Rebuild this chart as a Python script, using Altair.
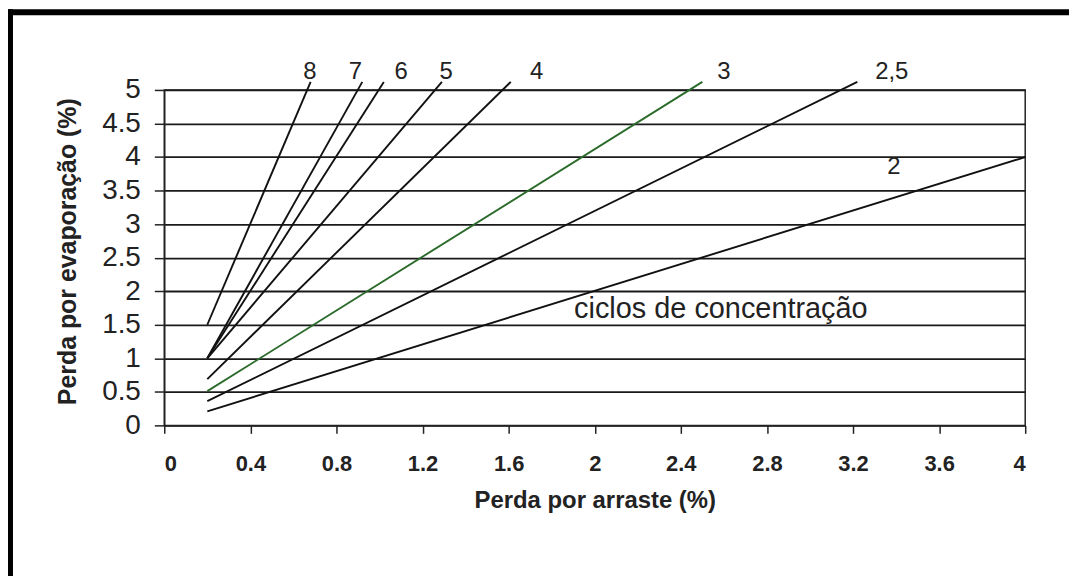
import altair as alt
import pandas as pd

# ---- data ----
cycles = ["8", "7", "6", "5", "4", "3", "2,5", "2"]
x_start = [0.2, 0.2, 0.2, 0.2, 0.2, 0.2, 0.2, 0.2]
y_start = [1.5, 1.0, 1.0, 1.0, 0.69, 0.51, 0.36, 0.21]
x_end = [0.68, 0.92, 1.02, 1.29, 1.61, 2.5, 3.22, 4.0]
y_end = [5.12, 5.12, 5.12, 5.12, 5.12, 5.12, 5.12, 4.0]
line_colors = ["#111111", "#111111", "#111111", "#111111", "#111111", "#2a6a2a", "#111111", "#111111"]

label_x = [0.677, 0.888, 1.10, 1.31, 1.73, 2.60, 3.38, 3.39]
label_y = [5.16, 5.16, 5.16, 5.16, 5.16, 5.16, 5.16, 3.75]

note_text = ["ciclos de concentração"]
note_x = [2.586]
note_y = [1.60]

x_ticks = [0, 0.4, 0.8, 1.2, 1.6, 2, 2.4, 2.8, 3.2, 3.6, 4]
y_ticks = [0, 0.5, 1, 1.5, 2, 2.5, 3, 3.5, 4, 4.5, 5]

FONT = "Liberation Sans"

rows = []
for i, c in enumerate(cycles):
    rows.append({"ciclo": c, "order": 0, "x": x_start[i], "y": y_start[i]})
    rows.append({"ciclo": c, "order": 1, "x": x_end[i], "y": y_end[i]})
lines_df = pd.DataFrame(rows)
labels_df = pd.DataFrame({"ciclo": cycles, "x": label_x, "y": label_y})
note_df = pd.DataFrame({"t": note_text, "x": note_x, "y": note_y})

xscale = alt.Scale(domain=[0, 4], nice=False, zero=False)
yscale = alt.Scale(domain=[0, 5], nice=False, zero=False)

xaxis = alt.Axis(
    values=x_ticks, labelExpr="'' + datum.value", title="Perda por arraste (%)",
    grid=False, tickSize=8, tickWidth=1.5, tickColor="#222", domainColor="#222", domainWidth=1.5,
    labelFont=FONT, labelFontSize=22, labelFontWeight="bold", labelColor="#222", labelPadding=20,
    labelOverlap=False,
    titleFont=FONT, titleFontSize=24, titleFontWeight="bold", titleColor="#222",
    titleY=64, titleBaseline="top",
)
yaxis = alt.Axis(
    values=y_ticks, labelExpr="'' + datum.value", title="Perda por evaporação (%)",
    grid=True, gridColor="#1a1a1a", gridWidth=1.8, gridOpacity=1,
    tickSize=10, tickWidth=1.5, tickColor="#222", domainColor="#222", domainWidth=1.5,
    labelFont=FONT, labelFontSize=28, labelColor="#222", labelPadding=14,
    labelOverlap=False,
    titleFont=FONT, titleFontSize=25, titleFontWeight="bold", titleColor="#222",
    titlePadding=21, titleY=162,
)

X = alt.X("x:Q", scale=xscale, axis=xaxis)
Y = alt.Y("y:Q", scale=yscale, axis=yaxis)

lines = alt.Chart(lines_df).mark_line(strokeWidth=1.9).encode(
    x=X,
    y=Y,
    color=alt.Color("ciclo:N", scale=alt.Scale(domain=cycles, range=line_colors), legend=None),
    detail="ciclo:N",
    order="order:O",
)

labels = alt.Chart(labels_df).mark_text(
    font=FONT, fontSize=24, color="#222", align="center", baseline="alphabetic"
).encode(x=X, y=Y, text="ciclo:N")

note = alt.Chart(note_df).mark_text(
    font=FONT, fontSize=29, color="#222", align="center", baseline="alphabetic"
).encode(x=X, y=Y, text="t:N")

frame_top = alt.Chart(note_df).mark_rule(color="black", strokeWidth=6).encode(
    x=alt.value(-160), x2=alt.value(920), y=alt.value(-78)
)
frame_left = alt.Chart(note_df).mark_rule(color="black", strokeWidth=6).encode(
    x=alt.value(-155), y=alt.value(-81), y2=alt.value(500)
)

chart = alt.layer(lines, labels, note, frame_top, frame_left).properties(
    width=865, height=337,
    autosize=alt.AutoSizeParams(type="none"),
    padding={"left": 157, "top": 81, "right": 44, "bottom": 150},
    background="white",
).configure_view(stroke="#222", strokeWidth=1.5)

chart.save("out.html", embed_options={"renderer": "svg", "actions": False})
